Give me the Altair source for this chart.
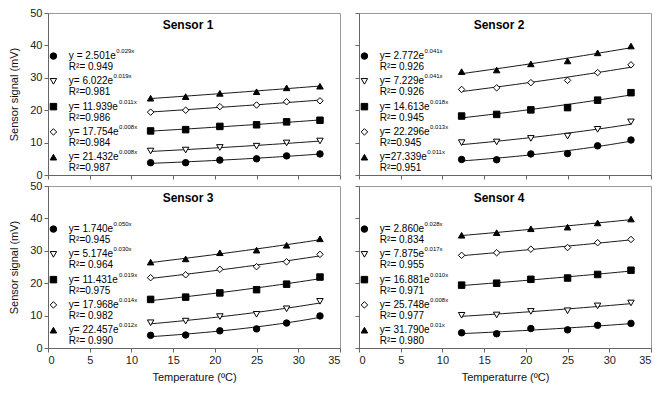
import altair as alt
import pandas as pd

FONT = "Liberation Sans"

# ---------------- data ----------------
temps = [12.3, 16.5, 20.6, 25.0, 28.6, 32.6]
series_order = ["circle", "tri_down", "square", "diamond", "tri_up"]
shapes = ["circle", "triangle-down", "square", "diamond", "triangle-up"]
fills = ["black", "white", "black", "white", "black"]

sensor_names = ["Sensor 1", "Sensor 2", "Sensor 3", "Sensor 4"]

s1_circle = [3.8, 3.8, 4.6, 5.0, 5.9, 6.5]
s1_tri_down = [7.4, 7.7, 8.5, 8.9, 9.9, 10.5]
s1_square = [13.6, 14.0, 15.0, 15.5, 16.4, 16.9]
s1_diamond = [19.4, 20.0, 21.1, 21.6, 22.6, 22.9]
s1_tri_up = [23.7, 24.2, 25.2, 25.7, 26.9, 27.4]

s2_circle = [4.8, 4.7, 6.5, 6.6, 9.0, 10.8]
s2_tri_down = [10.0, 10.2, 11.3, 12.0, 14.1, 16.4]
s2_square = [18.2, 18.7, 20.1, 20.8, 23.1, 25.4]
s2_diamond = [26.4, 26.9, 28.5, 29.2, 31.6, 34.0]
s2_tri_up = [31.9, 32.4, 34.3, 35.2, 37.7, 39.8]

s3_circle = [3.9, 4.0, 5.3, 5.9, 7.7, 9.9]
s3_tri_down = [7.8, 8.3, 9.7, 10.4, 12.1, 14.4]
s3_square = [15.0, 15.7, 17.0, 18.0, 19.7, 21.9]
s3_diamond = [21.7, 22.6, 24.3, 25.1, 26.6, 28.9]
s3_tri_up = [26.5, 27.5, 29.4, 30.2, 31.7, 33.7]

s4_circle = [4.7, 4.4, 6.0, 5.6, 7.0, 7.6]
s4_tri_down = [10.1, 10.2, 11.3, 11.5, 13.0, 13.9]
s4_square = [19.4, 20.0, 21.2, 21.6, 22.7, 24.0]
s4_diamond = [28.6, 29.4, 30.5, 31.0, 32.5, 33.5]
s4_tri_up = [34.8, 35.6, 36.8, 37.3, 38.6, 39.8]

s1_coef = ["y = 2.501e", "y= 6.022e", "y= 11.939e", "y= 17.754e", "y= 21.432e"]
s1_expo = ["0.029x", "0.019x", "0.011x", "0.008x", "0.008x"]
s1_r2 = ["R²= 0.949", "R²=0.981", "R²=0.986", "R²=0.984", "R²=0.987"]

s2_coef = ["y= 2.772e", "y= 7.229e", "y= 14.613e", "y= 22.296e", "y=27.339e"]
s2_expo = ["0.041x", "0.041x", "0.018x", "0.013x", "0.011x"]
s2_r2 = ["R²= 0.926", "R²= 0.926", "R²= 0.945", "R²=0.945", "R²=0.951"]

s3_coef = ["y= 1.740e", "y= 5.174e", "y= 11.431e", "y= 17.968e", "y= 22.457e"]
s3_expo = ["0.050x", "0.030x", "0.019x", "0.014x", "0.012x"]
s3_r2 = ["R²=0.945", "R²= 0.964", "R²=0.975", "R²= 0.982", "R²= 0.990"]

s4_coef = ["y= 2.860e", "y= 7.875e", "y= 16.881e", "y= 25.748e", "y= 31.790e"]
s4_expo = ["0.028x", "0.017x", "0.010x", "0.008x", "0.01x"]
s4_r2 = ["R²= 0.834", "R²= 0.955", "R²= 0.971", "R²= 0.977", "R²= 0.980"]

x_titles = ["Temperature (ºC)", "Temperaturre (ºC)"]
y_title = "Sensor signal (mV)"

sensors = [
    ([s1_circle, s1_tri_down, s1_square, s1_diamond, s1_tri_up], s1_coef, s1_expo, s1_r2),
    ([s2_circle, s2_tri_down, s2_square, s2_diamond, s2_tri_up], s2_coef, s2_expo, s2_r2),
    ([s3_circle, s3_tri_down, s3_square, s3_diamond, s3_tri_up], s3_coef, s3_expo, s3_r2),
    ([s4_circle, s4_tri_down, s4_square, s4_diamond, s4_tri_up], s4_coef, s4_expo, s4_r2),
]

# approximate Arial/Liberation Sans advance widths (em units)
CW = {"y": 0.5, "=": 0.584, " ": 0.278, ".": 0.278, "e": 0.556}


def text_width(s, size):
    return sum(CW.get(ch, 0.556) for ch in s) * size


W, H = 292, 162
FS = 10


def panel(idx, bottom, left):
    vals, coef, expo, r2 = sensors[idx]
    rows = []
    for name, ys in zip(series_order, vals):
        for t, v in zip(temps, ys):
            rows.append({"series": name, "T": t, "v": v})
    df = pd.DataFrame(rows)
    tx = 2.5
    leg = pd.DataFrame({
        "series": series_order,
        "lx": [0.65] * 5,
        "tx": [tx] * 5,
        "ex": [tx + (text_width(c, FS) + 0.5) * 35.0 / W for c in coef],
        "ly": [36.7 - k * 7.8 for k in range(5)],
        "coef": coef,
        "expo": expo,
        "r2": r2,
    })

    xaxis = alt.Axis(values=list(range(0, 36, 5)), labels=bottom,
                     title=(x_titles[idx % 2] if bottom else None),
                     titlePadding=6, labelPadding=2)
    yaxis = alt.Axis(values=list(range(0, 51, 10)), labels=left,
                     title=(y_title if left else None), titlePadding=10)
    xs = alt.Scale(domain=[0, 35], nice=False)
    ys_ = alt.Scale(domain=[0, 50], nice=False)

    def X(f):
        return alt.X(f + ":Q", scale=xs, axis=xaxis)

    def Y(f):
        return alt.Y(f + ":Q", scale=ys_, axis=yaxis)

    shape_enc = alt.Shape("series:N", scale=alt.Scale(domain=series_order, range=shapes), legend=None)
    fill_enc = alt.Fill("series:N", scale=alt.Scale(domain=series_order, range=fills), legend=None)

    lines = alt.Chart(df).transform_regression(
        "T", "v", method="exp", groupby=["series"]
    ).mark_line(color="black", strokeWidth=0.9).encode(x=X("T"), y=Y("v"), detail="series:N")

    pts = alt.Chart(df).mark_point(filled=True, size=42, stroke="black", strokeWidth=1, opacity=1).encode(
        x=X("T"), y=Y("v"), shape=shape_enc, fill=fill_enc)

    lpts = alt.Chart(leg).mark_point(filled=True, size=42, stroke="black", strokeWidth=1, opacity=1).encode(
        x=X("lx"), y=Y("ly"), shape=shape_enc, fill=fill_enc)

    eq = alt.Chart(leg).mark_text(align="left", baseline="middle", font=FONT, fontSize=FS,
                                  color="black", dy=0).encode(x=X("tx"), y=Y("ly"), text="coef:N")
    ex = alt.Chart(leg).mark_text(align="left", baseline="middle", font=FONT, fontSize=6,
                                  color="black", dy=-5).encode(x=X("ex"), y=Y("ly"), text="expo:N")
    rr = alt.Chart(leg).mark_text(align="left", baseline="middle", font=FONT, fontSize=FS,
                                  color="black", dy=11).encode(x=X("tx"), y=Y("ly"), text="r2:N")

    title = alt.Chart(pd.DataFrame({"t": [sensor_names[idx]]})).mark_text(
        font=FONT, fontSize=12, fontWeight="bold", color="black", baseline="middle"
    ).encode(text="t:N", x=alt.value(140), y=alt.value(12))

    return alt.layer(lines, pts, lpts, eq, ex, rr, title).properties(width=W, height=H)


chart = alt.concat(
    panel(0, False, True), panel(1, False, False),
    panel(2, True, True), panel(3, True, False),
    columns=2, spacing={"row": 11, "column": 19}, bounds="flush"
).properties(
    padding={"left": 0, "top": -2, "right": 0, "bottom": 0}
).configure_view(
    stroke="#9a9a9a", strokeWidth=1
).configure_axis(
    grid=False, domainColor="#666", tickColor="#666", tickSize=4,
    labelFont=FONT, titleFont=FONT, labelFontSize=11, titleFontSize=11,
    labelColor="#222", titleColor="#111", titleFontWeight="normal"
)

chart.save("out.html", embed_options={"renderer": "svg", "actions": False})
